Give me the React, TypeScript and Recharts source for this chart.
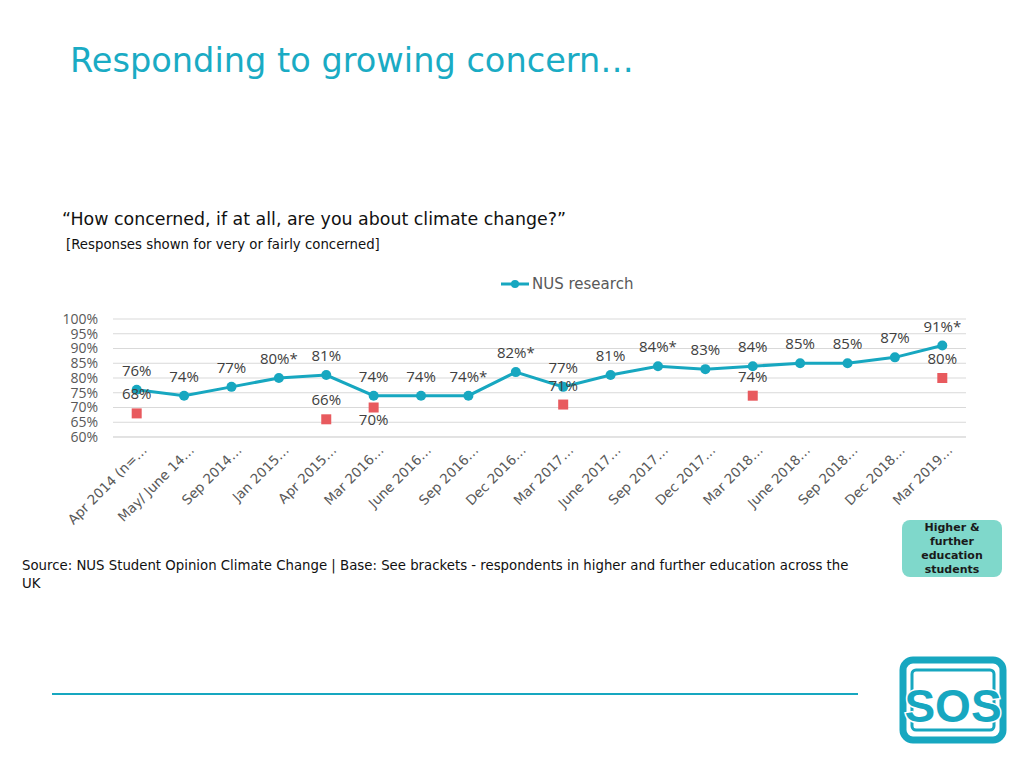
import { CartesianGrid, ComposedChart, LabelList, Line, XAxis, YAxis } from "recharts";

const waves = [
  "Apr 2014 (n=…",
  "May/ June 14…",
  "Sep 2014…",
  "Jan 2015…",
  "Apr 2015…",
  "Mar 2016…",
  "June 2016…",
  "Sep 2016…",
  "Dec 2016…",
  "Mar 2017…",
  "June 2017…",
  "Sep 2017…",
  "Dec 2017…",
  "Mar 2018…",
  "June 2018…",
  "Sep 2018…",
  "Dec 2018…",
  "Mar 2019…",
];

const nusResearch = [76, 74, 77, 80, 81, 74, 74, 74, 82, 77, 81, 84, 83, 84, 85, 85, 87, 91];
const nusStarred = [false, false, false, true, false, false, false, true, true, false, false, true, false, false, false, false, false, true];
const heStudents = [68, null, null, null, 66, 70, null, null, null, 71, null, null, null, 74, null, null, null, 80];

const yTicks = [60, 65, 70, 75, 80, 85, 90, 95, 100];

const TEAL = "#17a7c0";
const SQUARE = "#e85a5e";
const LABEL_FONT = "'Open Sans', sans-serif";
const UI_FONT = "'DejaVu Sans', sans-serif";

const rows = waves.map((wave, i) => ({
  wave,
  nus: nusResearch[i],
  he: heStudents[i],
  star: nusStarred[i],
}));

function NusLabel(props: any) {
  const { x, y, index } = props;
  const row = rows[index];
  return (
    <text x={x} y={y - 14} textAnchor="middle" fontSize={15} fill="#404040" fontFamily={LABEL_FONT}>
      {row.nus}%{row.star ? "*" : ""}
    </text>
  );
}

function HeLabel(props: any) {
  const { x, y, value, index } = props;
  if (value == null) return null;
  // the 70% marker is labelled underneath
  const below = index === 5;
  return (
    <text x={x} y={below ? y + 17 : y - 14} textAnchor="middle" fontSize={15} fill="#404040" fontFamily={LABEL_FONT}>
      {value}%
    </text>
  );
}

function SquareDot(props: any) {
  const { cx, cy, payload, index } = props;
  if (payload.he == null || cy == null) return <g key={`sq-${index}`} />;
  const s = 10;
  return <rect key={`sq-${index}`} x={cx - s / 2} y={cy - s / 2} width={s} height={s} fill={SQUARE} />;
}

function WaveTick(props: any) {
  const { x, y, payload } = props;
  const ax = x + 11;
  const ay = y + 14;
  return (
    <text
      x={ax}
      y={ay}
      transform={`rotate(-45, ${ax}, ${ay})`}
      textAnchor="end"
      fontSize={13.5}
      fill="#595959"
      fontFamily={UI_FONT}
    >
      {payload.value}
    </text>
  );
}

function SosLogo() {
  return (
    <svg width={108} height={88} style={{ position: "absolute", left: 899, top: 656 }}>
      <rect x={4} y={4} width={100} height={80} rx={10} fill="#fff" stroke={TEAL} strokeWidth={7} />
      <rect x={13} y={14} width={82} height={60} rx={4} fill="none" stroke={TEAL} strokeWidth={3} />
      <text
        x={54}
        y={66}
        textAnchor="middle"
        fontSize={46}
        fontWeight="bold"
        fill={TEAL}
        stroke="#fff"
        strokeWidth={3}
        paintOrder="stroke"
        fontFamily="'Liberation Sans', sans-serif"
      >
        SOS
      </text>
    </svg>
  );
}

export default function App() {
  return (
    <div style={{ position: "absolute", left: 0, top: 0, width: 1024, height: 768, background: "#fff", fontFamily: UI_FONT }}>
      <div style={{ position: "absolute", left: 70, top: 41, fontSize: 33.6, color: "#1aabc4", whiteSpace: "nowrap" }}>
        Responding to growing concern…
      </div>

      <div style={{ position: "absolute", left: 62, top: 209, fontSize: 17.4, color: "#111", whiteSpace: "nowrap" }}>
        “How concerned, if at all, are you about climate change?”
      </div>
      <div style={{ position: "absolute", left: 66, top: 237, fontSize: 13.3, color: "#111", whiteSpace: "nowrap" }}>
        [Responses shown for very or fairly concerned]
      </div>

      <div style={{ position: "absolute", left: 500, top: 275, display: "flex", alignItems: "center", gap: 2 }}>
        <svg width={30} height={14}>
          <line x1={1} y1={7} x2={29} y2={7} stroke={TEAL} strokeWidth={3} />
          <circle cx={15} cy={7} r={4} fill={TEAL} />
        </svg>
        <span style={{ fontSize: 15, color: "#595959" }}>NUS research</span>
      </div>

      <div style={{ position: "absolute", left: 0, top: 300 }}>
        <ComposedChart width={1024} height={237} data={rows} margin={{ top: 19, right: 58, left: 0, bottom: 0 }}>
          <CartesianGrid vertical={false} stroke="#d9d9d9" />
          <XAxis
            dataKey="wave"
            interval={0}
            padding={{ left: 23.7, right: 23.7 }}
            tickLine={false}
            tickSize={0}
            tickMargin={0}
            axisLine={{ stroke: "#d9d9d9" }}
            height={100}
            tick={<WaveTick />}
          />
          <YAxis
            type="number"
            domain={[60, 100]}
            ticks={yTicks}
            interval={0}
            width={113}
            axisLine={false}
            tickLine={false}
            tickSize={0}
            tickMargin={15}
            tickFormatter={(v: number) => `${v}%`}
            tick={{ fontSize: 14, fill: "#595959", fontFamily: LABEL_FONT }}
          />
          <Line
            dataKey="nus"
            stroke={TEAL}
            strokeWidth={3}
            dot={{ r: 5, fill: TEAL, stroke: TEAL, strokeWidth: 0 }}
            isAnimationActive={false}
          >
            <LabelList dataKey="nus" content={<NusLabel />} />
          </Line>
          <Line
            dataKey="he"
            stroke="none"
            connectNulls={false}
            dot={<SquareDot />}
            activeDot={false}
            isAnimationActive={false}
          >
            <LabelList dataKey="he" content={<HeLabel />} />
          </Line>
        </ComposedChart>
      </div>

      <div
        style={{
          position: "absolute",
          left: 902,
          top: 520,
          width: 100,
          height: 57,
          background: "#7fd8cb",
          borderRadius: 8,
          fontSize: 11,
          fontWeight: "bold",
          color: "#1a1a1a",
          textAlign: "center",
          lineHeight: "14px",
          paddingTop: 1,
          boxSizing: "border-box",
        }}
      >
        Higher &amp;
        <br />
        further
        <br />
        education
        <br />
        students
      </div>

      <div style={{ position: "absolute", left: 22, top: 557, width: 840, fontSize: 13.3, lineHeight: "18px", color: "#111" }}>
        Source: NUS Student Opinion Climate Change | Base: See brackets - respondents in higher and further education across the UK
      </div>

      <div style={{ position: "absolute", left: 52, top: 693, width: 806, height: 2, background: TEAL }} />

      <SosLogo />
    </div>
  );
}
